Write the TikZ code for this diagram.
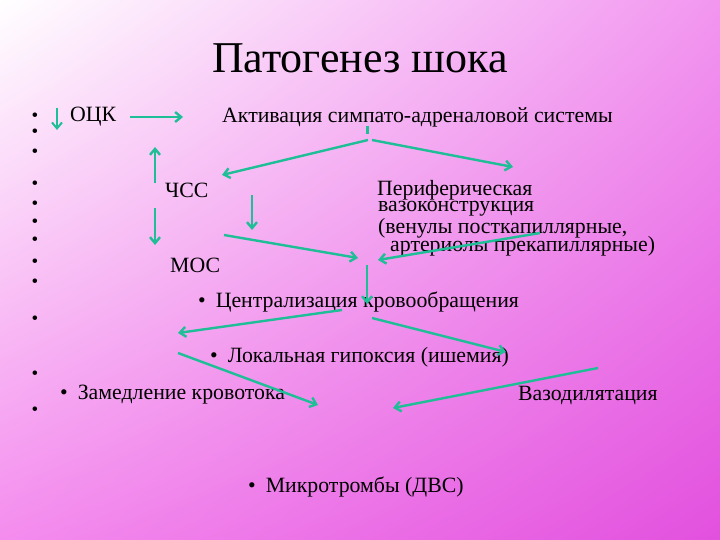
\documentclass[tikz,border=0pt]{standalone}
\usepackage{fontspec}
\setmainfont{Liberation Serif}
\usetikzlibrary{arrows.meta,shadings}
\definecolor{arr}{RGB}{30,190,150}
\definecolor{bgur}{RGB}{242,150,240}
\definecolor{bgll}{RGB}{244,140,238}
\definecolor{bglr}{RGB}{226,80,222}
\begin{document}
\begin{tikzpicture}[x=1pt,y=-1pt,
 txt/.style={anchor=west,inner sep=0pt,font=\fontsize{21.8}{22}\selectfont},
 bul/.style={inner sep=0pt,font=\fontsize{19}{22}\selectfont},
 ar/.style={draw=arr,line width=2.4pt,-{Straight Barb[length=6pt,width=10pt]}}]
\shade[upper left=white,upper right=bgur,lower left=bgll,lower right=bglr] (0,0) rectangle (720,540);
\useasboundingbox (0,0) rectangle (720,540);
\node[inner sep=0pt,font=\fontsize{44}{46}\selectfont] (title) at (360,58) {Патогенез шока};
\foreach \y [count=\i] in {117,133,153,185,205,223,241,263,283,320,375,411}
  \node[bul] (b\i) at (35,\y) {•};
\node[txt] (ock) at (70,117) {ОЦК};
\node[txt] (akt) at (222,117) {Активация симпато-адреналовой системы};
\node[txt] (chss) at (165,190) {ЧСС};
\node[txt] (per) at (377,190) {Периферическая};
\node[txt] (vaz) at (378,209) {вазоконструкция};
\node[txt] (ven) at (378,228) {(венулы посткапиллярные,};
\node[txt] (art) at (390,246) {артериолы прекапиллярные)};
\node[txt] (mos) at (170,265) {МОС};
\node[txt] (cen) at (198,302) {•\hspace{10pt}Централизация кровообращения};
\node[txt] (lok) at (210,357) {•\hspace{10pt}Локальная гипоксия (ишемия)};
\node[txt] (zam) at (60,395) {•\hspace{10pt}Замедление кровотока};
\node[txt] (vd) at (518,395) {Вазодилятация};
\node[txt] (mik) at (248,487) {•\hspace{10pt}Микротромбы (ДВС)};
\foreach \n/\x/\y in {a1/57/108,a2/57/130,c1/130/117,c2/183/117,m1/367/126,m2/367/134,
 l1/368/140,l2/222/175,r1/372/140,r2/513/167,u1/155/183,u2/155/147,d1/155/208,d2/155/245,
 e1/252/195,e2/252/230,f1/224/235,f2/358/258,g1/540/233,g2/378/260,h1/367/265,h2/367/304,
 i1/342/310,i2/178/333,j1/372/318,j2/506/352,k1/178/353,k2/318/405,n1/598/368,n2/393/408}
  \coordinate (\n) at (\x,\y);
\draw[ar,line width=2pt] (a1) -- (a2);
\draw[ar] (c1) -- (c2);
\draw[draw=arr,line width=3pt] (m1) -- (m2);
\draw[ar] (l1) -- (l2);
\draw[ar] (r1) -- (r2);
\draw[ar] (u1) -- (u2);
\draw[ar] (d1) -- (d2);
\draw[ar] (e1) -- (e2);
\draw[ar] (f1) -- (f2);
\draw[ar] (g1) -- (g2);
\draw[ar] (h1) -- (h2);
\draw[ar] (i1) -- (i2);
\draw[ar] (j1) -- (j2);
\draw[ar] (k1) -- (k2);
\draw[ar] (n1) -- (n2);
\end{tikzpicture}
\end{document}
